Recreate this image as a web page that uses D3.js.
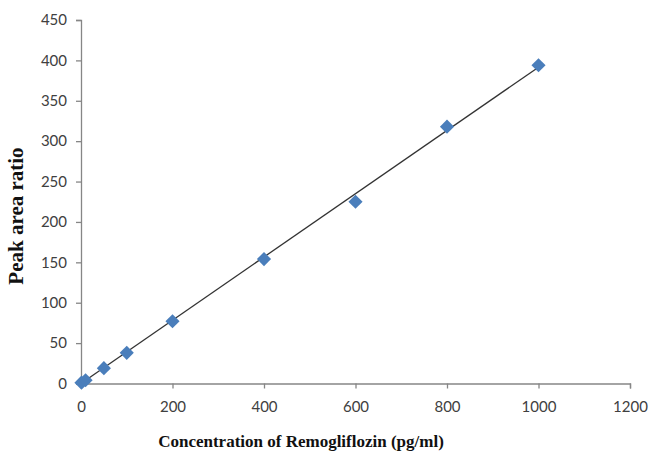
<!DOCTYPE html>
<html><head><meta charset="utf-8">
<script src="https://cdn.jsdelivr.net/npm/d3@7"></script>
<style>body{margin:0;background:#fff}svg{display:block}</style>
</head><body>
<svg id="chart" width="649" height="451"></svg>
<script>
const concentrations = [1, 10, 50, 100, 200, 400, 600, 800, 1000];
const peakRatios = [1, 4, 19, 38, 77, 154, 225, 318, 394];
const xTicks = [0, 200, 400, 600, 800, 1000, 1200];
const yTicks = [0, 50, 100, 150, 200, 250, 300, 350, 400, 450];
const xTitle = "Concentration of Remogliflozin (pg/ml)";
const yTitle = "Peak area ratio";

const svg = d3.select("#chart");
const x = d3.scaleLinear().domain([0, 1200]).range([81, 630]);
const y = d3.scaleLinear().domain([0, 450]).range([383.5, 20]);
const axisColor = "#868686";
const tickFont = "Lato, 'Open Sans', sans-serif";

const xAxis = svg.append("g").attr("transform", `translate(0,${y(0)})`)
  .call(d3.axisBottom(x).tickValues(xTicks).tickFormat(d3.format("d")).tickSize(5).tickPadding(13).tickSizeOuter(5));
const yAxis = svg.append("g").attr("transform", `translate(${x(0)},0)`)
  .call(d3.axisLeft(y).tickValues(yTicks).tickFormat(d3.format("d")).tickSize(5).tickPadding(9).tickSizeOuter(5));
[xAxis, yAxis].forEach(g => {
  g.selectAll("path, line").attr("stroke", axisColor).attr("stroke-width", 1.3);
  g.selectAll("text").attr("fill", "#404040").style("font-family", tickFont).style("font-size", "15px");
});

// linear least-squares trend line
const mx = d3.mean(concentrations), my = d3.mean(peakRatios);
const slope = d3.sum(concentrations, (c, i) => (c - mx) * (peakRatios[i] - my)) /
              d3.sum(concentrations, c => (c - mx) * (c - mx));
const intercept = my - slope * mx;
const xMax = d3.max(concentrations);
svg.append("line")
  .attr("x1", x(0)).attr("y1", y(Math.max(0, intercept)))
  .attr("x2", x(xMax)).attr("y2", y(intercept + slope * xMax))
  .attr("stroke", "#333").attr("stroke-width", 1.3);

svg.append("g").selectAll("path").data(concentrations).join("path")
  .attr("d", d3.symbol(d3.symbolSquare, 100)())
  .attr("transform", (d, i) => `translate(${x(d)},${y(peakRatios[i])}) rotate(45)`)
  .attr("fill", "#4a7ebb");

svg.append("text").attr("x", 301).attr("y", 447).attr("text-anchor", "middle")
  .style("font-family", "'Liberation Serif', 'Times New Roman', serif").style("font-weight", "bold")
  .style("font-size", "17px").attr("fill", "#111").text(xTitle);
svg.append("text").attr("transform", "translate(23,216) rotate(-90)").attr("text-anchor", "middle")
  .style("font-family", "'Liberation Serif', 'Times New Roman', serif").style("font-weight", "bold")
  .style("font-size", "21px").attr("fill", "#111").text(yTitle);
</script>
</body></html>
